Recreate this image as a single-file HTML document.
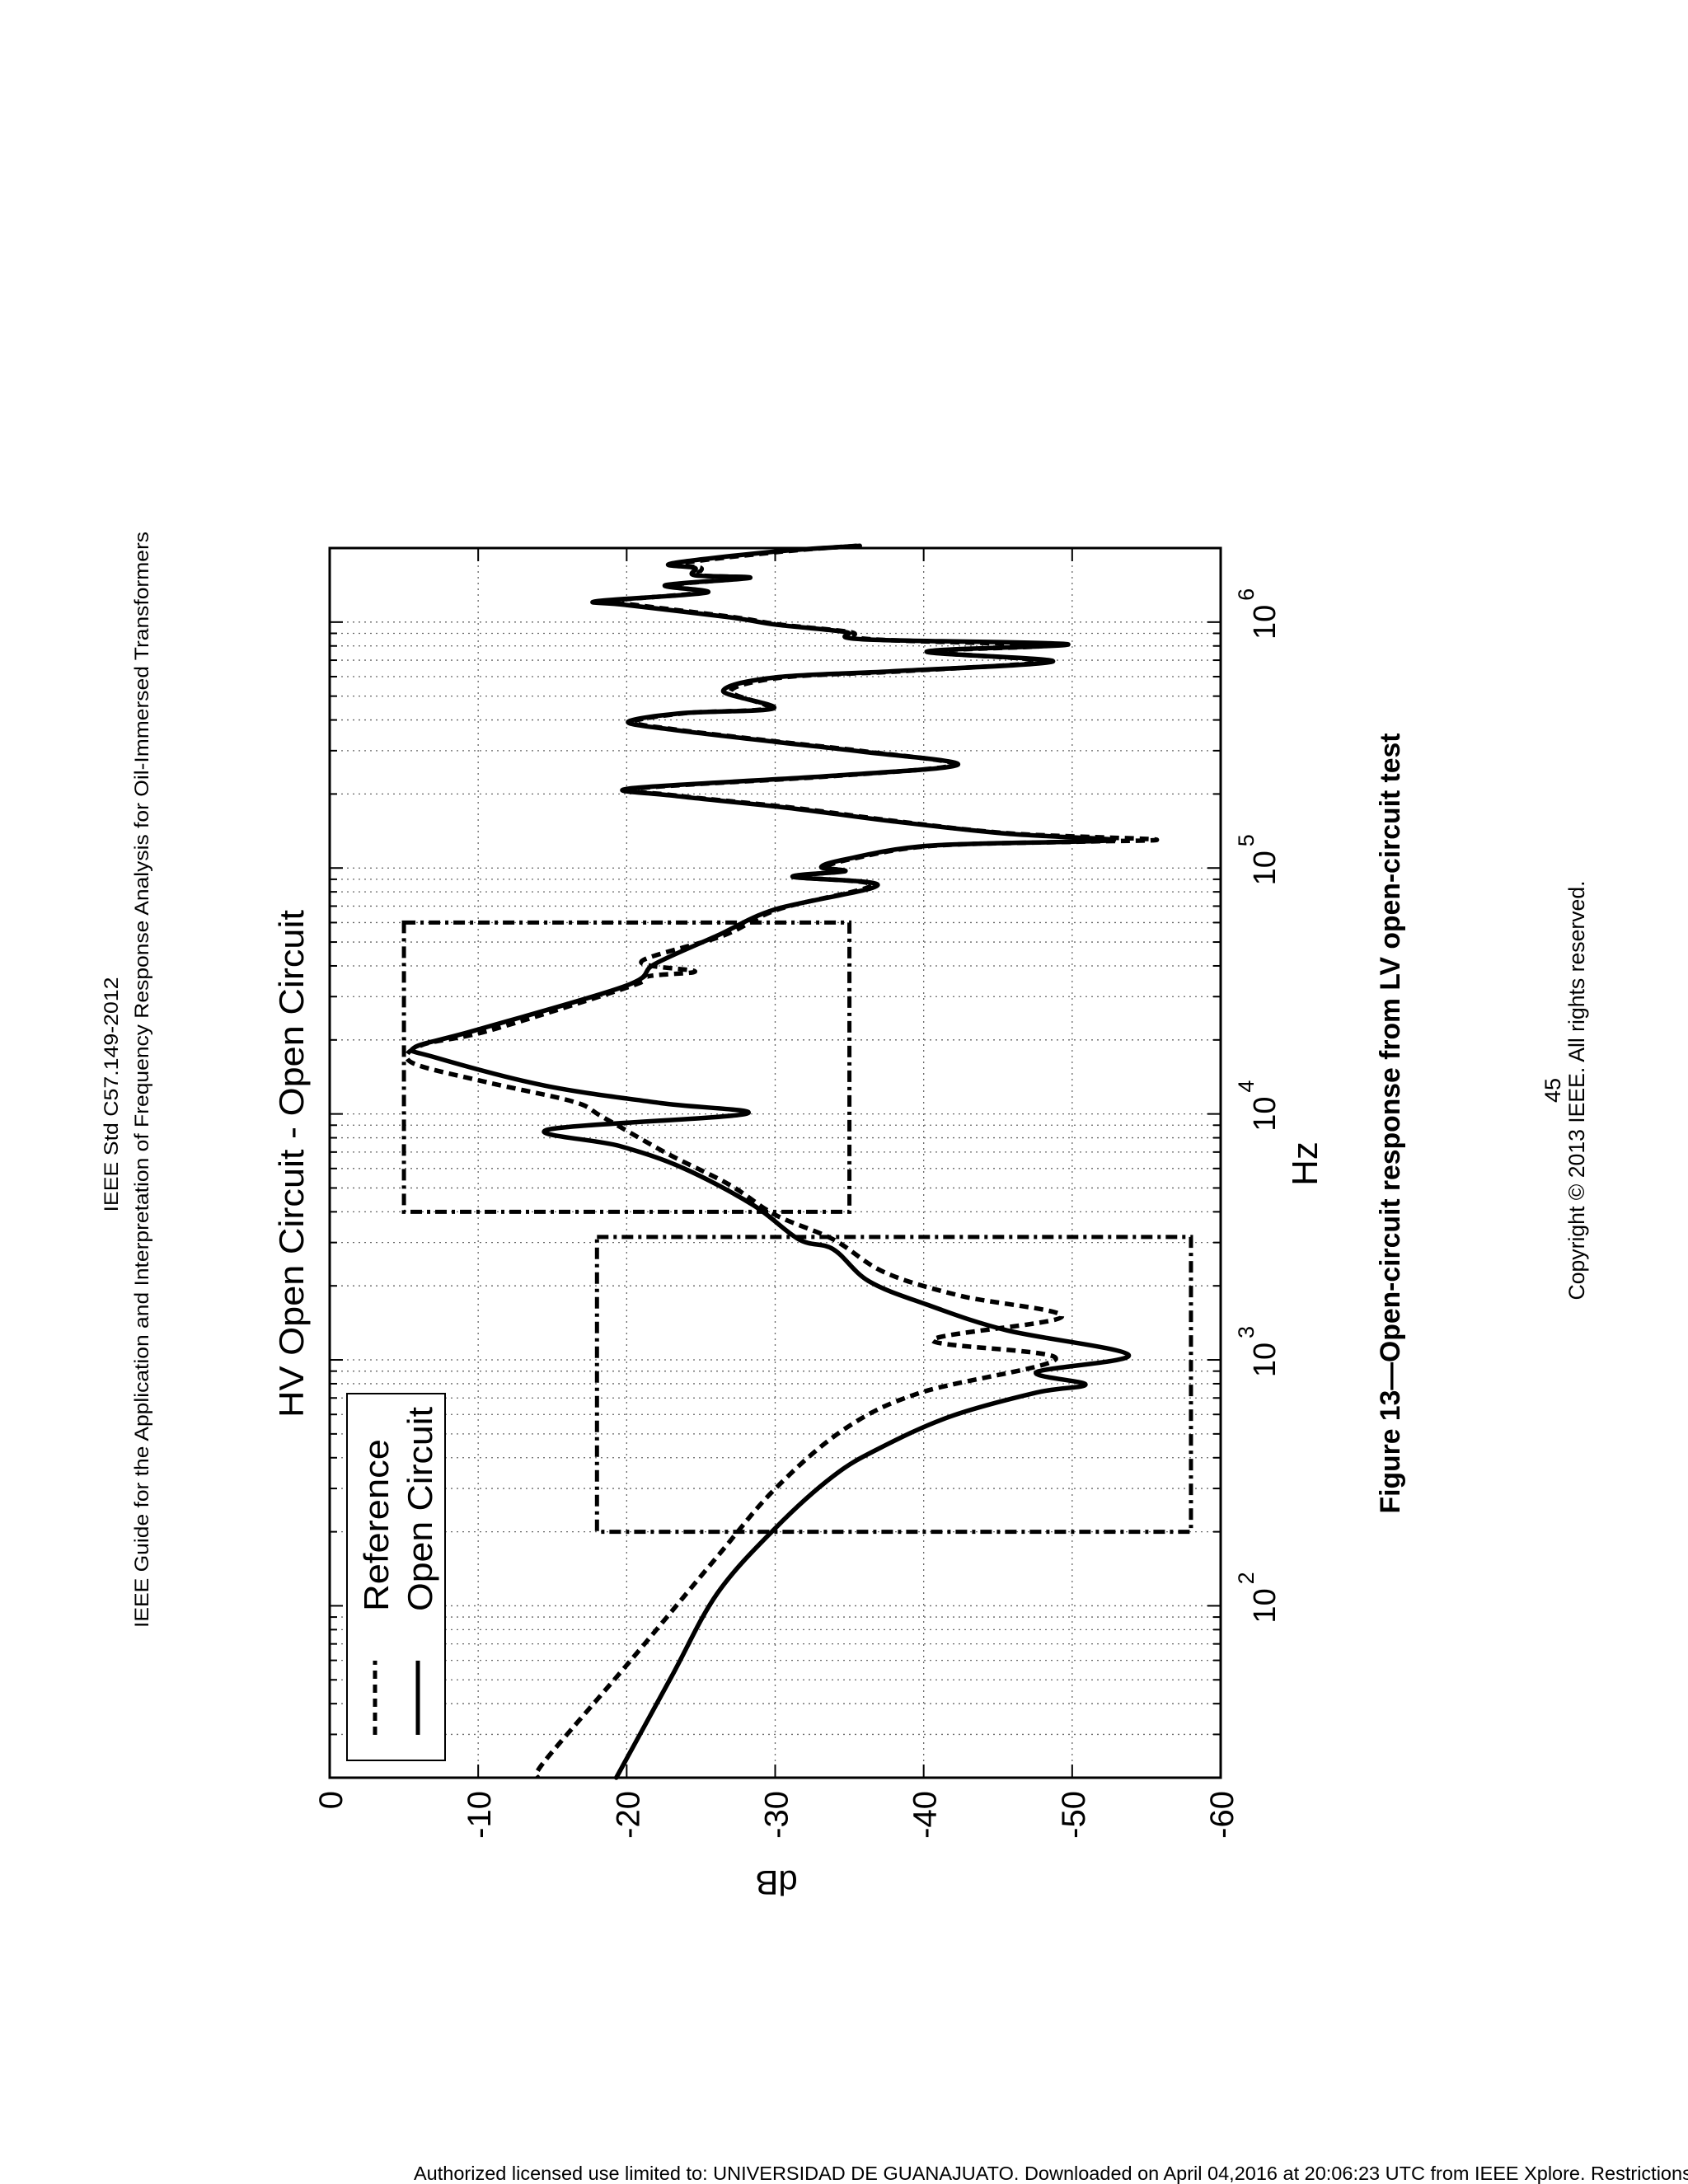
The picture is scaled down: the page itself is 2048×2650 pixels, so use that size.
<!DOCTYPE html>
<html>
<head>
<meta charset="utf-8">
<style>
  html,body{margin:0;padding:0;background:#fff;}
  svg{display:block;}
  text{font-family:"Liberation Sans",Arial,sans-serif;fill:#000;}
</style>
</head>
<body>
<svg id="chart" width="2048" height="2650" viewBox="0 0 2048 2650" xmlns="http://www.w3.org/2000/svg">
  <rect x="0" y="0" width="2048" height="2650" fill="#fff"/>
  <text transform="translate(143,1328) rotate(-90)" text-anchor="middle" font-size="24" textLength="285" lengthAdjust="spacingAndGlyphs">IEEE Std C57.149-2012</text>
  <text transform="translate(180,1310) rotate(-90)" text-anchor="middle" font-size="24" textLength="1330" lengthAdjust="spacingAndGlyphs">IEEE Guide for the Application and Interpretation of Frequency Response Analysis for Oil-Immersed Transformers</text>
  <text transform="translate(368,1412) rotate(-90)" text-anchor="middle" font-size="42" textLength="616" lengthAdjust="spacingAndGlyphs">HV Open Circuit - Open Circuit</text>
  <g id="grid"></g>
  <g id="boxes"></g>
  <g id="series"></g>
  <rect x="400" y="665" width="1081" height="1492" fill="none" stroke="#000" stroke-width="3"/>
  <g id="ticks"></g>
  <g>
    <rect x="421" y="1691" width="119" height="445" fill="#fff" stroke="#000" stroke-width="2"/>
    <line x1="455" y1="2105" x2="455" y2="2015" stroke="#000" stroke-width="5" stroke-dasharray="10,7"/>
    <text transform="translate(471,1955) rotate(-90)" font-size="42" textLength="209" lengthAdjust="spacingAndGlyphs">Reference</text>
    <line x1="507" y1="2105" x2="507" y2="2015" stroke="#000" stroke-width="5"/>
    <text transform="translate(524,1955) rotate(-90)" font-size="42" textLength="248" lengthAdjust="spacingAndGlyphs">Open Circuit</text>
  </g>
  <text transform="translate(942,2270) rotate(180)" text-anchor="middle" font-size="42">dB</text>
  <text transform="translate(1598,1412) rotate(-90)" text-anchor="middle" font-size="44">Hz</text>
  <text transform="translate(1698,1363) rotate(-90)" text-anchor="middle" font-size="34" font-weight="bold" textLength="947" lengthAdjust="spacingAndGlyphs">Figure 13—Open-circuit response from LV open-circuit test</text>
  <text transform="translate(1893,1323) rotate(-90)" text-anchor="middle" font-size="27">45</text>
  <text transform="translate(1922,1323) rotate(-90)" text-anchor="middle" font-size="27" textLength="509" lengthAdjust="spacingAndGlyphs">Copyright © 2013 IEEE. All rights reserved.</text>
  <text x="502" y="2645" font-size="23.5">Authorized licensed use limited to: UNIVERSIDAD DE GUANAJUATO. Downloaded on April 04,2016 at 20:06:23 UTC from IEEE Xplore.  Restrictions apply.</text>
</svg>
<script>
// ---- data (log10 of frequency in Hz, magnitude in dB) ----
const openLogF = [6.31,6.287,6.238,6.22,6.19,6.18,6.15,6.12,6.085,6.07,6.02,5.99,5.96,5.93,5.91,5.88,5.84,5.80,5.775,5.72,5.65,5.63,5.595,5.563,5.513,5.473,5.42,5.375,5.324,5.295,5.245,5.19,5.14,5.116,5.107,5.09,5.035,5.003,4.987,4.964,4.93,4.832,4.725,4.61,4.52,4.34,4.27,4.23,4.115,4.044,4.0,3.936,3.87,3.78,3.63,3.49,3.45,3.32,3.225,3.12,3.02,2.95,2.90,2.867,2.77,2.64,2.527,2.315,2.05,1.71,1.301];
const openDb   = [-35.7,-30.0,-23.0,-24.6,-24.6,-28.3,-22.6,-25.4,-18.0,-19.9,-26.9,-30.0,-34.7,-35.9,-49.7,-40.2,-48.7,-37.9,-30.0,-26.5,-29.9,-23.8,-20.1,-23.0,-30.0,-35.9,-42.3,-33.9,-20.3,-23.0,-30.8,-37.9,-45.6,-52.6,-50.0,-40.2,-34.7,-33.1,-34.7,-31.2,-36.9,-30.0,-26.1,-21.9,-19.9,-9.8,-5.7,-7.1,-14.5,-22.3,-28.0,-14.7,-19.5,-23.8,-28.5,-31.6,-33.9,-36.3,-40.2,-45.6,-53.8,-47.6,-50.9,-47.6,-41.8,-37.0,-33.9,-30.0,-26.1,-23.0,-19.3];
const refLogF  = [6.31,6.287,6.238,6.22,6.19,6.18,6.15,6.12,6.085,6.07,6.02,5.99,5.96,5.93,5.905,5.88,5.84,5.80,5.775,5.72,5.65,5.63,5.595,5.563,5.513,5.473,5.42,5.375,5.324,5.295,5.245,5.19,5.14,5.116,5.107,5.09,5.035,5.003,4.987,4.964,4.93,4.832,4.725,4.62,4.58,4.56,4.52,4.34,4.28,4.21,4.13,4.05,3.987,3.84,3.713,3.59,3.49,3.355,3.26,3.175,3.08,3.005,2.867,2.72,2.476,2.2,1.78,1.37,1.301];
const refDb    = [-35.5,-30.5,-23.5,-25.0,-25.0,-28.0,-23.0,-25.0,-18.5,-20.5,-27.2,-30.3,-35.0,-36.5,-48.0,-40.5,-48.0,-38.5,-30.5,-27.0,-29.5,-24.0,-20.5,-23.3,-30.3,-36.2,-42.0,-34.2,-20.8,-23.3,-31.2,-38.2,-46.0,-55.6,-50.5,-40.5,-35.0,-33.5,-34.5,-31.5,-36.5,-30.2,-26.5,-21.0,-24.6,-21.5,-20.3,-10.8,-6.2,-5.5,-10.5,-16.4,-18.4,-22.7,-26.9,-30.0,-33.9,-37.4,-42.5,-49.3,-40.6,-48.9,-39.8,-34.7,-30.0,-26.1,-20.3,-14.5,-14.0];
const dbTicks    = [0,-10,-20,-30,-40,-50,-60];
const dbTickText = ["0","-10","-20","-30","-40","-50","-60"];
const decades    = [2,3,4,5,6];
const boxFreqLow  = [200, 4000];
const boxFreqHigh = [3162, 60000];
const boxDbTop    = [-18, -5];
const boxDbBottom = [-58, -35];

// ---- axes ----
const X0 = 400, X1 = 1481, Y_TOP = 665, Y_BOT = 2157;
const fMin = 20, fMax = 2e6;
function xS(db){ return X0 + (0 - db) / 60 * (X1 - X0); }
function yL(lf){ return Y_BOT - (lf - Math.log10(fMin)) / (Math.log10(fMax) - Math.log10(fMin)) * (Y_BOT - Y_TOP); }
function yF(f){ return yL(Math.log10(f)); }

const NS = "http://www.w3.org/2000/svg";
function mk(tag, attrs, parent){
  const e = document.createElementNS(NS, tag);
  for (const k in attrs) e.setAttribute(k, attrs[k]);
  parent.appendChild(e);
  return e;
}
const grid = document.getElementById('grid');
const ticks = document.getElementById('ticks');

for (let d = 1; d <= 6; d++) {
  for (let m = 1; m <= 9; m++) {
    const f = m * Math.pow(10, d);
    if (f < fMin || f > fMax) continue;
    const y = yF(f);
    const g = mk('line', {x1:X0, x2:X1, y1:y, y2:y, stroke:'#666', 'stroke-width':1.3, 'stroke-dasharray':'2,5'}, grid);
    
    
    const len = (m === 1) ? 16 : 9;
    const t1 = mk('line', {x1:X0, x2:X0+len, y1:y, y2:y, stroke:'#000', 'stroke-width':2}, ticks);
    
    
    const t2 = mk('line', {x1:X1-len, x2:X1, y1:y, y2:y, stroke:'#000', 'stroke-width':2}, ticks);
    
    
  }
}
dbTicks.forEach((db, i) => {
  const x = xS(db);
  if (db !== 0 && db !== -60) {
    const g = mk('line', {x1:x, x2:x, y1:Y_TOP, y2:Y_BOT, stroke:'#666', 'stroke-width':1.3, 'stroke-dasharray':'2,5'}, grid);
    
    
    const t1 = mk('line', {x1:x, x2:x, y1:Y_TOP, y2:Y_TOP+16, stroke:'#000', 'stroke-width':2}, ticks);
    
    
    const t2 = mk('line', {x1:x, x2:x, y1:Y_BOT-16, y2:Y_BOT, stroke:'#000', 'stroke-width':2}, ticks);
    
    
  }
  const lab = mk('text', {transform:`translate(${x+15},2173) rotate(-90)`, 'text-anchor':'end', 'font-size':40}, ticks);
  lab.textContent = dbTickText[i];
  
  
});
decades.forEach(n => {
  const y = yL(n);
  const t = mk('text', {transform:`translate(1547,${y}) rotate(-90)`, 'text-anchor':'middle', 'font-size':38}, ticks);
  t.textContent = '10';
  
  
  const s = mk('text', {transform:`translate(1521,${y-26}) rotate(-90)`, 'text-anchor':'start', 'font-size':27}, ticks);
  s.textContent = String(n);
  
  
});

const boxes = document.getElementById('boxes');
boxFreqLow.forEach((fl, i) => {
  const xa = xS(boxDbTop[i]), xb = xS(boxDbBottom[i]);
  const ya = yF(boxFreqHigh[i]), yb = yF(fl);
  const r = mk('rect', {x:xa, y:ya, width:xb-xa, height:yb-ya, fill:'none', stroke:'#000', 'stroke-width':5, 'stroke-dasharray':'14,6,4,6'}, boxes);
  
  
});

// smooth path through points (Catmull-Rom)
function smoothPath(lf, db){
  const P = lf.map((v, i) => [xS(db[i]), yL(v)]);
  let d = 'M' + P[0][0].toFixed(1) + ',' + P[0][1].toFixed(1);
  const t = 0.5 / 3;
  for (let i = 0; i < P.length - 1; i++) {
    const p0 = P[Math.max(0, i-1)], p1 = P[i], p2 = P[i+1], p3 = P[Math.min(P.length-1, i+2)];
    const c1 = [p1[0] + (p2[0]-p0[0])*t, p1[1] + (p2[1]-p0[1])*t];
    const c2 = [p2[0] - (p3[0]-p1[0])*t, p2[1] - (p3[1]-p1[1])*t];
    d += ' C' + c1[0].toFixed(1) + ',' + c1[1].toFixed(1) + ' ' + c2[0].toFixed(1) + ',' + c2[1].toFixed(1) + ' ' + p2[0].toFixed(1) + ',' + p2[1].toFixed(1);
  }
  return d;
}
const series = document.getElementById('series');
const ref = mk('path', {d:smoothPath(refLogF, refDb), fill:'none', stroke:'#000', 'stroke-width':5.5, 'stroke-dasharray':'11,7', 'stroke-linejoin':'round'}, series);


const oc = mk('path', {d:smoothPath(openLogF, openDb), fill:'none', stroke:'#000', 'stroke-width':5.5, 'stroke-linejoin':'round', 'stroke-linecap':'round'}, series);


</script>
</body>
</html>
